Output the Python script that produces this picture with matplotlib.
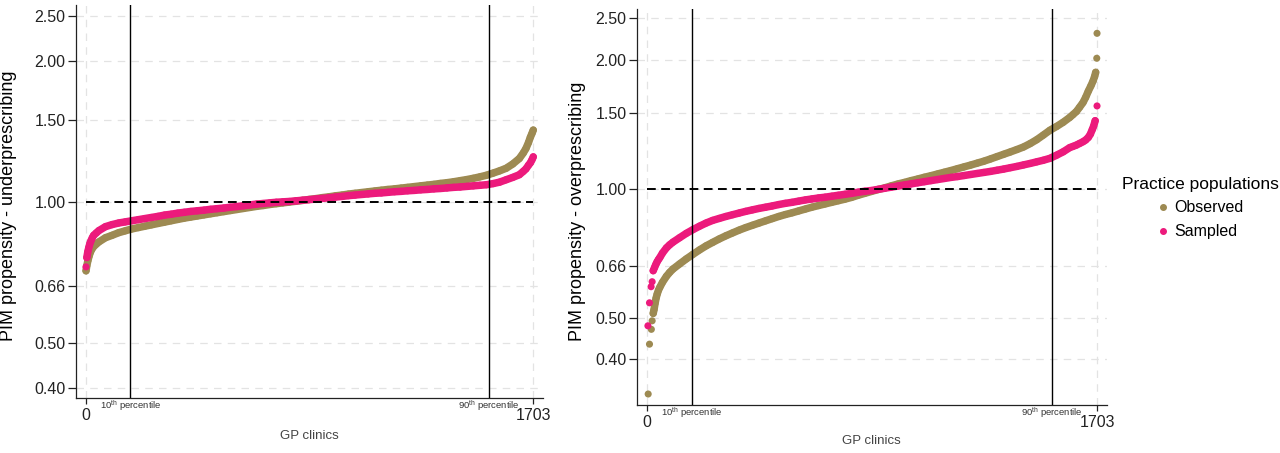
import matplotlib
matplotlib.use("Agg")
import matplotlib.pyplot as plt
from matplotlib.lines import Line2D
from matplotlib.ticker import FixedLocator, NullLocator
import matplotlib.transforms as mtransforms

plt.rcParams["font.family"] = ["Liberation Sans", "DejaVu Sans"]

# ── Data: sorted clinic propensities (rank -> value) ──────────────────────────
# "strip" = the dense run of overlapping clinic dots, "out" = isolated end dots
N_CLINICS = 1703
P10 = 170
P90 = 1533

MID_RANK = [50, 75, 100, 125, 150, 175, 200, 225, 250, 275, 300, 325, 350, 375,
            400, 425, 450, 475, 500, 525, 550, 575, 600, 625, 650, 675, 700, 725,
            750, 775, 800, 825, 850, 875, 900, 925, 950, 975, 1000, 1025, 1050,
            1075, 1100, 1125, 1150, 1175, 1200, 1225, 1250, 1275, 1300, 1325,
            1350, 1375, 1400, 1425, 1450, 1475, 1500, 1525, 1550, 1575, 1600,
            1625, 1650]

# underprescribing panel
under_obs_rank = [1, 4, 8, 12, 16, 20, 25, 30, 40] + MID_RANK + [1665, 1675, 1685, 1692, 1698, 1703]
under_observed = [0.712, 0.730, 0.748, 0.763, 0.776, 0.786, 0.795, 0.802, 0.812,
                  0.821, 0.838, 0.848, 0.859, 0.867, 0.875, 0.881, 0.887, 0.893, 0.899,
                  0.905, 0.911, 0.917, 0.923, 0.928, 0.933, 0.938, 0.943, 0.948, 0.953,
                  0.958, 0.963, 0.968, 0.973, 0.978, 0.982, 0.987, 0.991, 0.995, 0.999,
                  1.003, 1.007, 1.012, 1.016, 1.021, 1.025, 1.030, 1.034, 1.039, 1.043,
                  1.047, 1.051, 1.055, 1.059, 1.063, 1.066, 1.070, 1.074, 1.078, 1.082,
                  1.086, 1.090, 1.095, 1.099, 1.104, 1.110, 1.116, 1.123, 1.131, 1.140,
                  1.152, 1.165, 1.180, 1.205, 1.238,
                  1.272, 1.300, 1.340, 1.375, 1.400, 1.424]
under_obs_out_rank = []
under_obs_out = []

under_smp_rank = [4, 8, 12, 16, 20, 25, 30, 40] + MID_RANK + [1665, 1675, 1685, 1692, 1698, 1703]
under_sampled = [0.760, 0.783, 0.800, 0.815, 0.826, 0.838, 0.848, 0.858,
                 0.868, 0.885, 0.894, 0.901, 0.906, 0.911, 0.916, 0.921, 0.926, 0.931,
                 0.937, 0.941, 0.946, 0.950, 0.954, 0.957, 0.960, 0.964, 0.967, 0.970,
                 0.974, 0.977, 0.981, 0.985, 0.989, 0.992, 0.995, 0.998, 1.000, 1.002,
                 1.005, 1.008, 1.011, 1.014, 1.017, 1.020, 1.024, 1.027, 1.031, 1.034,
                 1.037, 1.040, 1.043, 1.045, 1.048, 1.051, 1.053, 1.056, 1.058, 1.061,
                 1.063, 1.066, 1.068, 1.071, 1.074, 1.076, 1.079, 1.082, 1.085, 1.088,
                 1.094, 1.102, 1.115, 1.128, 1.143,
                 1.162, 1.176, 1.198, 1.212, 1.230, 1.248]
under_smp_out_rank = [1]
under_smp_out = [0.726]

# overprescribing panel
over_obs_rank = [25, 28, 32, 36, 40, 45, 50, 60, 75, 87] + MID_RANK[2:-2] + \
                [1612, 1625, 1637, 1650, 1660, 1670, 1680, 1688, 1694, 1698]
over_observed = [0.512, 0.522, 0.540, 0.556, 0.568, 0.580, 0.589, 0.605, 0.625, 0.638,
                 0.650, 0.668, 0.686, 0.703, 0.720, 0.736, 0.750, 0.764, 0.777, 0.789,
                 0.801, 0.812, 0.822, 0.832, 0.842, 0.852, 0.862, 0.871, 0.879, 0.888,
                 0.897, 0.906, 0.914, 0.922, 0.930, 0.938, 0.946, 0.955, 0.966, 0.976,
                 0.986, 0.996, 1.005, 1.016, 1.026, 1.035, 1.045, 1.054, 1.064, 1.073,
                 1.083, 1.093, 1.103, 1.114, 1.125, 1.136, 1.148, 1.160, 1.174, 1.189,
                 1.204, 1.219, 1.235, 1.252, 1.275, 1.302, 1.335, 1.370, 1.398, 1.430,
                 1.468,
                 1.490, 1.515, 1.550, 1.590, 1.635, 1.690, 1.740, 1.785, 1.830, 1.870]
over_obs_out_rank = [6, 11, 18, 21, 1702, 1703]
over_obs_out = [0.332, 0.434, 0.470, 0.492, 2.017, 2.306]

over_smp_rank = [25, 30, 35, 40, 45, 50, 60, 75, 87] + MID_RANK[2:-2] + \
                [1612, 1625, 1637, 1650, 1660, 1670, 1678, 1685, 1690, 1696]
over_sampled = [0.644, 0.655, 0.666, 0.676, 0.684, 0.691, 0.708, 0.728, 0.740,
                0.751, 0.769, 0.787, 0.803, 0.818, 0.832, 0.844, 0.853, 0.862, 0.870,
                0.878, 0.886, 0.893, 0.900, 0.906, 0.912, 0.919, 0.925, 0.930, 0.936,
                0.942, 0.947, 0.952, 0.956, 0.961, 0.966, 0.971, 0.976, 0.982, 0.987,
                0.991, 0.997, 1.003, 1.009, 1.015, 1.021, 1.027, 1.033, 1.039, 1.045,
                1.051, 1.057, 1.063, 1.068, 1.074, 1.080, 1.086, 1.092, 1.098, 1.105,
                1.112, 1.120, 1.128, 1.137, 1.146, 1.156, 1.166, 1.178, 1.198, 1.220,
                1.248,
                1.256, 1.265, 1.276, 1.288, 1.300, 1.318, 1.342, 1.375, 1.400, 1.442]
over_smp_out_rank = [5, 11, 17, 21, 1703]
over_smp_out = [0.479, 0.542, 0.591, 0.607, 1.561]

Y_TICKS = [0.40, 0.50, 0.66, 1.00, 1.50, 2.00, 2.50]

OBS_COL = "#9d8a52"
SMP_COL = "#ec1a7c"
GRID_COL = "#e3e3e3"


def draw_series(ax, rank, vals, out_rank, out_vals, colour, z):
    assert len(rank) == len(vals) and len(out_rank) == len(out_vals)
    # overlapping dots of the dense run merge into one band
    ax.plot(rank, vals, color=colour, lw=5.4, solid_capstyle="round",
            solid_joinstyle="round", zorder=z)
    ax.scatter(list(rank) + list(out_rank), list(vals) + list(out_vals), s=26,
               color=colour, edgecolors="none", zorder=z)


def draw_panel(ax, obs, smp, ylabel, ylim, lab_x, lab_y, xlab_y):
    ax.set_yscale("log")
    ax.set_xlim(-37, 1740)
    ax.set_ylim(*ylim)

    # light dashed grid at the tick positions
    for y in Y_TICKS:
        ax.axhline(y, color=GRID_COL, lw=0.9, ls=(0, (6, 5)), zorder=0)
    for x in (0, N_CLINICS):
        ax.axvline(x, color=GRID_COL, lw=0.9, ls=(0, (6, 5)), zorder=0)

    draw_series(ax, *obs, OBS_COL, 2)
    draw_series(ax, *smp, SMP_COL, 3)

    ax.hlines(1.0, 0, N_CLINICS, colors="black", lw=1.4, linestyles=(0, (4.5, 2.8)), zorder=4)
    ax.axvline(P10, color="black", lw=1.0, zorder=4)
    ax.axvline(P90, color="black", lw=1.0, zorder=4)

    ax.yaxis.set_major_locator(FixedLocator(Y_TICKS))
    ax.yaxis.set_minor_locator(NullLocator())
    ax.set_yticklabels([f"{v:.2f}" for v in Y_TICKS])
    ax.set_xticks([0, N_CLINICS])
    ax.set_xticklabels(["0", str(N_CLINICS)])
    ax.tick_params(axis="y", length=6, width=0.9, pad=1.5, labelsize=11.5, colors="#222")
    ax.tick_params(axis="x", length=4, width=0.9, pad=3, labelsize=11.5, colors="#222")

    for side in ("top", "right"):
        ax.spines[side].set_visible(False)
    for side in ("left", "bottom"):
        ax.spines[side].set_color("#222")
        ax.spines[side].set_linewidth(0.9)

    trans = mtransforms.blended_transform_factory(ax.transData, ax.transAxes)
    for x, lab in ((P10, "10"), (P90, "90")):
        ax.text(x, -0.02, lab + r"$^{\mathregular{th}}$ percentile", transform=trans,
                ha="center", va="center", fontsize=6.8, color="#333")

    ax.set_ylabel(ylabel, fontsize=13)
    ax.yaxis.set_label_coords(lab_x, lab_y)
    ax.set_xlabel("GP clinics", fontsize=9.5, color="#444")
    ax.xaxis.set_label_coords(0.5, xlab_y)


fig = plt.figure(figsize=(12.8, 4.53), dpi=100)
ax_u = fig.add_axes([0.0594, 0.1207, 0.3648, 0.868])
ax_o = fig.add_axes([0.4975, 0.1060, 0.3672, 0.8735])

draw_panel(ax_u,
           (under_obs_rank, under_observed, under_obs_out_rank, under_obs_out),
           (under_smp_rank, under_sampled, under_smp_out_rank, under_smp_out),
           "PIM propensity - underprescribing", (0.380, 2.635), -0.126, 0.491, -0.080)
draw_panel(ax_o,
           (over_obs_rank, over_observed, over_obs_out_rank, over_obs_out),
           (over_smp_rank, over_sampled, over_smp_out_rank, over_smp_out),
           "PIM propensity - overprescribing", (0.313, 2.624), -0.108, 0.4885, -0.075)

handles = [Line2D([], [], ls="none", marker="o", ms=4, color=OBS_COL, label="Observed"),
           Line2D([], [], ls="none", marker="o", ms=4, color=SMP_COL, label="Sampled")]
fig.legend(handles=handles, title="Practice populations", title_fontsize=12.5,
           fontsize=11.5, frameon=False, loc="center",
           bbox_to_anchor=(1200 / 1280, 1 - 208 / 453),
           handletextpad=0.3, labelspacing=0.55, handlelength=0.8, borderpad=0.2)

fig.savefig("out.png", dpi=100)
